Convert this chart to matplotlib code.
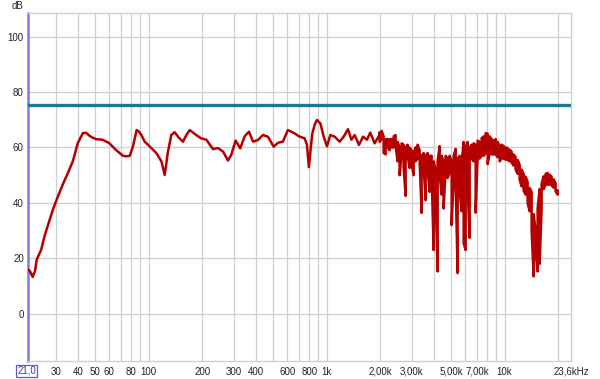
import matplotlib
matplotlib.use("Agg")
import matplotlib.pyplot as plt
from matplotlib.ticker import FixedLocator, FixedFormatter, NullFormatter

# ---------------- data ----------------
# smooth part of the response (Hz, dB)
freq_lo = [21, 21.5, 22.3, 23.0, 23.5, 24.9, 26, 27.5, 29.2, 31, 33.2, 35.3, 37.5, 40,
           42.7, 44.5, 47, 50.6, 55, 60, 65.8, 71.7, 75, 78.3, 81.6, 85.6, 88, 91, 95,
           101.7, 110.4, 118, 121, 123, 125, 128, 134, 140, 148, 156, 163, 170, 185, 197,
           211, 230, 245, 262, 279, 291, 308, 327, 346, 366, 386, 411, 439, 468, 504, 533,
           568, 606, 661, 699, 752, 775, 795, 815, 831, 860, 882, 922, 962, 1004, 1049,
           1109, 1183, 1246, 1318, 1377, 1437, 1519, 1600, 1684, 1759, 1860, 1967]
db_lo = [15.9, 15.5, 13.3, 15.5, 19.5, 23.1, 28, 33, 38.2, 42.5, 47.2, 51, 55, 61.6,
         65.2, 65.3, 64, 63, 62.8, 61.6, 59, 57, 56.8, 57, 60.3, 66.3, 65.8, 64.5, 62.1,
         60.3, 58, 55, 52, 50.1, 53, 58, 64.5, 65.5, 63.5, 62.1, 64.5, 66.3, 64.5, 63.3,
         62.8, 59.4, 59.8, 58.5, 55.3, 57.3, 62.5, 59.7, 64, 65.7, 62.1, 62.7, 64.5, 63.9, 60.3, 61.7,
         62.1, 66.3, 65.1, 64, 63.3, 61, 52.9, 60, 65.1, 68.5, 69.9, 68.7, 64, 60.4, 64.5,
         63.9, 62.1, 63.9, 66.6, 62.8, 64.5, 60.9, 63.9, 62.8, 65.4, 61.5, 64.2]

# dense high-frequency part: per-bin max / min level (Hz, dB)
freq_hf = [1985, 2037, 2090, 2145, 2201, 2259, 2319, 2379, 2441, 2505, 2571, 2638, 2707,
           2778, 2851, 2926, 3002, 3081, 3162, 3245, 3330, 3417, 3507, 3599, 3693, 3790,
           3890, 3992, 4096, 4204, 4314, 4427, 4543, 4662, 4785, 4910, 5039, 5171, 5307,
           5445, 5589, 5735, 5886, 6040, 6198, 6361, 6527, 6699, 6874, 7054, 7239, 7429,
           7624, 7824, 8028, 8239, 8455, 8677, 8904, 9137, 9374, 9620, 9872, 10130, 10396,
           10669, 10948, 11235, 11530, 11832, 12142, 12460, 12787, 13122, 13466, 13819,
           14181, 14553, 14934, 15326, 15727, 16139, 16562, 16996, 17442, 17899, 18368,
           18849, 19343, 19850]
db_hf_max = [65.5, 66, 64, 63, 63, 63, 63, 64, 64.5, 62, 60, 61.5, 61,
             60, 61, 60, 59, 58, 60, 61, 59, 57, 58, 57, 58, 57,
             57, 55, 52, 55, 60.5, 57, 55, 57, 56, 57, 55, 57, 59.5,
             56, 57, 55, 62, 60, 62, 60, 61, 61.5, 61, 62.5, 62, 63.4,
             64, 65.2, 65, 64, 63, 62.5, 63, 62, 60.5, 61, 60.5, 60, 59.8,
             59.2, 58.5, 57.5, 56.5, 55.5, 53.8, 52, 50.5, 49.5, 47.5, 45.4,
             44, 36, 30, 38, 45, 47, 49.6, 50.5, 50.8, 50.2, 49.5,
             48.5, 47, 44.5]
db_hf_min = [62, 63, 58, 57.5, 60, 59, 60, 60, 60.5, 55, 50, 58, 53,
             42.5, 57, 52.6, 54, 50, 55, 56, 55, 36.4, 53, 41, 52, 44,
             50, 23, 42, 15.3, 50, 43, 38, 52, 49, 51, 32, 49, 47,
             14.7, 44, 37, 25.5, 23, 45, 27.4, 56, 55, 36.5, 57, 56, 57,
             57, 58, 54, 58, 57.5, 57.5, 57.4, 56.5, 55, 56, 56, 55.6, 55.5,
             55, 54.5, 53.5, 52, 50.5, 48.4, 46, 44.5, 43, 40, 37,
             30, 13.5, 22, 15.3, 18, 38, 45, 46.6, 46.6, 46.6, 46.3,
             45.5, 44.2, 43]

target_db = 75.3

grid_freqs = [30, 40, 50, 60, 70, 80, 90, 100, 200, 300, 400, 500, 600, 700, 800, 900,
              1000, 2000, 3000, 4000, 5000, 6000, 7000, 8000, 9000, 10000, 20000]
label_freqs = [30, 40, 50, 60, 80, 100, 200, 300, 400, 600, 800, 1000, 2000, 3000,
               5000, 7000, 10000, 23600]
label_texts = ["30", "40", "50", "60", "80", "100", "200", "300", "400", "600", "800",
               "1k", "2,00k", "3,00k", "5,00k", "7,00k", "10k", "23,6kHz"]
y_ticks = [0, 20, 40, 60, 80, 100]

# ---------------- plot ----------------
plt.rcParams['font.family'] = ['Liberation Sans', 'DejaVu Sans']

fig = plt.figure(figsize=(6.0, 3.79), dpi=100)
fig.patch.set_facecolor('white')
ax = fig.add_axes([28 / 600, 1 - 361 / 379, (571 - 28) / 600, (361 - 13) / 379])
ax.set_xscale('log')
ax.set_xlim(21, 23600)
ax.set_ylim(-17, 108.5)

# grid
ax.xaxis.remove_overlapping_locs = False
ax.xaxis.set_minor_locator(FixedLocator(grid_freqs))
ax.xaxis.set_minor_formatter(NullFormatter())
ax.xaxis.set_major_locator(FixedLocator(label_freqs))
ax.xaxis.set_major_formatter(FixedFormatter(label_texts))
ax.set_yticks(y_ticks)
ax.grid(False)
ax.grid(True, which='minor', axis='x', color='#cfcfcf', linewidth=0.9)
ax.grid(True, which='major', axis='y', color='#cfcfcf', linewidth=0.9)
ax.tick_params(which='both', length=0, labelsize=7, colors='#222222')
ax.tick_params(axis='x', pad=4)
ax.tick_params(axis='y', pad=3)

for s in ['top', 'right', 'bottom']:
    ax.spines[s].set_color('#d0d0d0')
    ax.spines[s].set_linewidth(1.0)
ax.spines['left'].set_color('#7a7ae0')
ax.spines['left'].set_linewidth(1.8)

# target line
ax.axhline(target_db, color='#1f7896', linewidth=2.4, zorder=3)

# response trace: smooth part, then max/min envelope per bin
xs = list(freq_lo)
ys = list(db_lo)
for i, (f, hi, lo) in enumerate(zip(freq_hf, db_hf_max, db_hf_min)):
    if i % 2 == 0:
        xs += [f, f]
        ys += [hi, lo]
    else:
        xs += [f, f]
        ys += [lo, hi]
ax.plot(xs, ys, color='#b40000', linewidth=1.8, zorder=4, solid_joinstyle='round')

# dB unit label
ax.annotate('dB', xy=(0, 1), xycoords='axes fraction', xytext=(-3, 3.2),
            textcoords='offset points', ha='right', va='baseline', fontsize=7,
            color='#222222')

# start-frequency boxed label
ax.annotate('21,0', xy=(21, 0), xycoords=('data', 'axes fraction'),
            xytext=(-1, -3.5), textcoords='offset points', ha='center', va='top',
            fontsize=7, color='#3a3ab8',
            bbox=dict(boxstyle='square,pad=0.12', facecolor='white',
                      edgecolor='#5a5ad0', linewidth=0.9))

fig.savefig('out.png', dpi=100, facecolor='white')
